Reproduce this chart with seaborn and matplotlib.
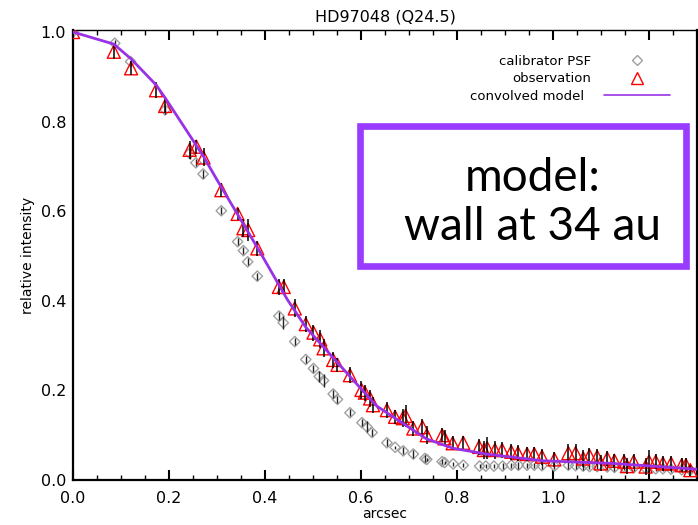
import matplotlib
matplotlib.use("Agg")
import matplotlib.pyplot as plt
import seaborn as sns
import numpy as np
from matplotlib.patches import Rectangle
from matplotlib.ticker import MultipleLocator, FormatStrFormatter

# ---- data ----
obs_x = [0.0, 0.085, 0.121, 0.173, 0.192, 0.243, 0.257, 0.272, 0.309, 0.343,
         0.355, 0.365, 0.384, 0.429, 0.439, 0.462, 0.485, 0.501, 0.515, 0.522,
         0.542, 0.551, 0.577, 0.601, 0.608, 0.619, 0.625, 0.654, 0.671, 0.687,
         0.693, 0.709, 0.728, 0.737, 0.769, 0.774, 0.791, 0.813, 0.846, 0.856,
         0.863, 0.879, 0.894, 0.913, 0.927, 0.946, 0.961, 0.977, 1.003, 1.032,
         1.047, 1.063, 1.076, 1.092, 1.099, 1.113, 1.128, 1.148, 1.154, 1.168,
         1.193, 1.200, 1.214, 1.229, 1.246, 1.268, 1.277, 1.286]
obs_y = [1.0, 0.956, 0.919, 0.870, 0.835, 0.737, 0.744, 0.720, 0.647, 0.594,
         0.562, 0.558, 0.517, 0.431, 0.431, 0.383, 0.348, 0.329, 0.314, 0.294,
         0.268, 0.257, 0.234, 0.201, 0.195, 0.182, 0.167, 0.156, 0.141, 0.138,
         0.143, 0.115, 0.118, 0.100, 0.100, 0.093, 0.082, 0.083, 0.074, 0.067,
         0.071, 0.067, 0.067, 0.063, 0.060, 0.058, 0.058, 0.052, 0.046, 0.060,
         0.060, 0.048, 0.054, 0.052, 0.037, 0.048, 0.043, 0.041, 0.031, 0.041,
         0.030, 0.041, 0.041, 0.037, 0.037, 0.033, 0.033, 0.022]
obs_err = [0.005, 0.016, 0.016, 0.018, 0.016, 0.02, 0.016, 0.02, 0.016, 0.014,
           0.02, 0.025, 0.016, 0.018, 0.018, 0.02, 0.018, 0.018, 0.02, 0.02,
           0.018, 0.016, 0.018, 0.02, 0.018, 0.02, 0.018, 0.018, 0.016, 0.02,
           0.025, 0.016, 0.018, 0.02, 0.016, 0.018, 0.016, 0.016, 0.018, 0.02,
           0.025, 0.02, 0.018, 0.018, 0.018, 0.016, 0.016, 0.018, 0.016, 0.02,
           0.02, 0.02, 0.018, 0.018, 0.018, 0.016, 0.016, 0.016, 0.018, 0.016,
           0.018, 0.025, 0.016, 0.016, 0.016, 0.016, 0.016, 0.012]

cal_x = [0.0, 0.087, 0.120, 0.192, 0.243, 0.256, 0.271, 0.309, 0.343, 0.355,
         0.364, 0.384, 0.429, 0.438, 0.462, 0.485, 0.501, 0.513, 0.522, 0.542,
         0.551, 0.577, 0.602, 0.612, 0.623, 0.654, 0.671, 0.688, 0.709, 0.733,
         0.737, 0.769, 0.774, 0.792, 0.813, 0.847, 0.860, 0.877, 0.895, 0.913,
         0.928, 0.946, 0.961, 0.977, 1.003, 1.032, 1.047, 1.063, 1.076, 1.092,
         1.113, 1.128, 1.148, 1.168, 1.193, 1.214, 1.229, 1.246, 1.268, 1.286]
cal_y = [1.0, 0.975, 0.934, 0.826, 0.729, 0.708, 0.683, 0.601, 0.532, 0.512,
         0.487, 0.455, 0.366, 0.351, 0.309, 0.269, 0.249, 0.231, 0.222, 0.192,
         0.180, 0.150, 0.128, 0.119, 0.106, 0.083, 0.073, 0.065, 0.058, 0.048,
         0.046, 0.041, 0.039, 0.036, 0.033, 0.031, 0.031, 0.031, 0.031, 0.033,
         0.033, 0.033, 0.033, 0.032, 0.031, 0.033, 0.032, 0.031, 0.030, 0.030,
         0.029, 0.028, 0.028, 0.027, 0.026, 0.025, 0.025, 0.024, 0.023, 0.022]
cal_err = [0.004, 0.008, 0.008, 0.008, 0.012, 0.008, 0.008, 0.008, 0.008, 0.008,
           0.008, 0.008, 0.008, 0.014, 0.008, 0.008, 0.008, 0.012, 0.014, 0.008,
           0.008, 0.008, 0.008, 0.012, 0.008, 0.008, 0.004, 0.008, 0.008, 0.008,
           0.004, 0.006, 0.004, 0.004, 0.004, 0.004, 0.004, 0.004, 0.006, 0.006,
           0.008, 0.006, 0.006, 0.008, 0.006, 0.008, 0.008, 0.008, 0.006, 0.006,
           0.006, 0.008, 0.006, 0.006, 0.006, 0.006, 0.006, 0.006, 0.006, 0.006]

model_x = [0.0, 0.085, 0.121, 0.173, 0.192, 0.236, 0.272, 0.300, 0.389, 0.447,
           0.485, 0.577, 0.633, 0.654, 0.736, 0.791, 0.860, 0.977, 1.124, 1.30]
model_y = [1.0, 0.973, 0.940, 0.882, 0.853, 0.781, 0.722, 0.670, 0.510, 0.402,
           0.341, 0.231, 0.165, 0.150, 0.092, 0.071, 0.058, 0.043, 0.037, 0.024]

legend_labels = ["calibrator PSF", "observation", "convolved model"]
title = "HD97048 (Q24.5)"
box_lines = ["model:", "wall at 34 au"]

PURPLE = "#9932e6"
BOXPURPLE = "#9a3cff"

sns.set_style("ticks")
plt.rcParams["font.family"] = ["DejaVu Sans"]
plt.rcParams["text.color"] = "black"
plt.rcParams["axes.labelcolor"] = "black"
plt.rcParams["xtick.color"] = "black"
plt.rcParams["ytick.color"] = "black"

fig = plt.figure(figsize=(6.98, 5.25), dpi=100)
ax = fig.add_axes([73/698, 45/525, 624/698, 450/525])

# calibrator PSF
sns.scatterplot(x=cal_x, y=cal_y, ax=ax, marker="D", s=28,
                facecolor="none", edgecolor="#a0a0a0", linewidth=1.0, zorder=2)
ax.errorbar(cal_x, cal_y, yerr=cal_err, fmt="none", ecolor="#222222",
            elinewidth=1.0, capsize=0, zorder=3)
# observation
sns.scatterplot(x=obs_x, y=obs_y, ax=ax, marker="^", s=88,
                facecolor="none", edgecolor="red", linewidth=1.0, zorder=4)
ax.errorbar(obs_x, obs_y, yerr=obs_err, fmt="none", ecolor="black",
            elinewidth=1.1, capsize=0, zorder=5)
# model
sns.lineplot(x=model_x, y=model_y, ax=ax, color=PURPLE, lw=2.0, sort=False,
             estimator=None, zorder=6)

ax.set_xlim(0, 1.3)
ax.set_ylim(0, 1.0045)
ax.xaxis.set_major_locator(MultipleLocator(0.2))
ax.xaxis.set_minor_locator(MultipleLocator(0.05))
ax.yaxis.set_major_locator(MultipleLocator(0.2))
ax.xaxis.set_major_formatter(FormatStrFormatter("%.1f"))
ax.yaxis.set_major_formatter(FormatStrFormatter("%.1f"))
ax.tick_params(axis="x", which="major", direction="in", length=7, width=1.5,
               top=True, labelsize=11.5, pad=8, colors="black")
ax.tick_params(axis="x", which="minor", direction="in", length=3.5, width=1.0,
               top=True, colors="black")
ax.tick_params(axis="y", which="both", length=0, labelsize=11.5, pad=5,
               colors="black")
for s in ["left", "bottom", "right"]:
    ax.spines[s].set_linewidth(1.6)
    ax.spines[s].set_color("black")
ax.spines["top"].set_linewidth(1.0)
ax.spines["top"].set_color("black")

ax.set_xlabel("arcsec", fontsize=10, labelpad=1, color="black")
ax.set_ylabel("relative intensity", fontsize=10, labelpad=4, color="black")
ax.set_title(title, fontsize=11.5, pad=6, color="black")

# legend (drawn manually to mimic IDL style)
tx = ax.transAxes
ax.text(0.830, 0.931, legend_labels[0], transform=tx, ha="right", va="center", fontsize=9.5, color="black")
ax.text(0.830, 0.893, legend_labels[1], transform=tx, ha="right", va="center", fontsize=9.5, color="black")
ax.text(0.819, 0.853, legend_labels[2], transform=tx, ha="right", va="center", fontsize=9.5, color="black")
ax.plot([0.904], [0.933], transform=tx, marker="D", ms=5.5, mfc="none",
        mec="#a0a0a0", mew=1.0, ls="none")
ax.plot([0.904], [0.893], transform=tx, marker="^", ms=8, mfc="none",
        mec="red", mew=1.0, ls="none")
ax.plot([0.851, 0.957], [0.855, 0.855], transform=tx, color=PURPLE, lw=1.2)

# annotation box
rect = Rectangle((0.460, 0.476), 0.522, 0.311, transform=tx, fill=False,
                 edgecolor=BOXPURPLE, linewidth=4.8, zorder=7, clip_on=False)
ax.add_patch(rect)
ax.text(0.737, 0.672, box_lines[0], transform=tx, ha="center", va="center",
        fontsize=33, family=["Lato", "DejaVu Sans"], color="black", zorder=8)
ax.text(0.736, 0.562, box_lines[1], transform=tx, ha="center", va="center",
        fontsize=33, family=["Lato", "DejaVu Sans"], color="black", zorder=8)

fig.savefig("out.png", dpi=100)
